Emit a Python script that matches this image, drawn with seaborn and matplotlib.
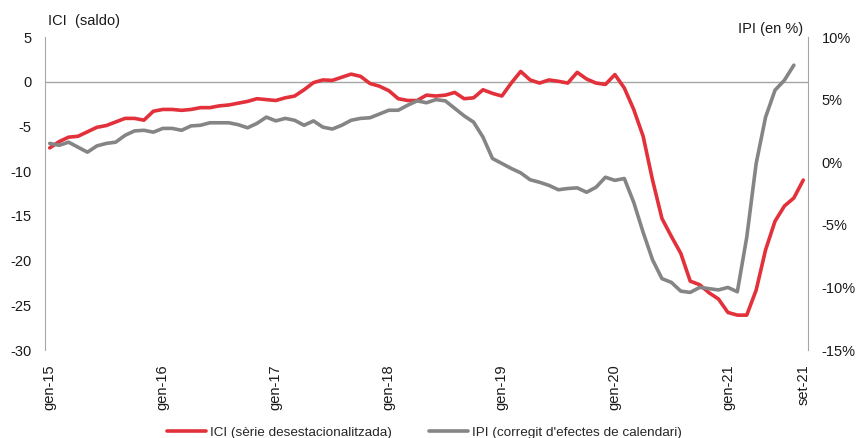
import numpy as np
import pandas as pd
import matplotlib
matplotlib.use("Agg")
import matplotlib.pyplot as plt
import seaborn as sns

# ICI (saldo), monthly gen-15 .. set-21
ici = [-7.4, -6.7, -6.2, -6.1, -5.6, -5.1, -4.9, -4.5, -4.1, -4.1, -4.3, -3.3,
       -3.1, -3.1, -3.2, -3.1, -2.9, -2.9, -2.7, -2.6, -2.4, -2.2, -1.9, -2.0,
       -2.1, -1.8, -1.6, -0.9, -0.1, 0.2, 0.15, 0.5, 0.85, 0.6, -0.2, -0.5,
       -1.0, -1.9, -2.1, -2.1, -1.5, -1.6, -1.5, -1.2, -1.9, -1.8, -0.9, -1.3,
       -1.6, -0.15, 1.15, 0.2, -0.15, 0.2, 0.05, -0.15, 1.05, 0.3, -0.15, -0.3,
       0.8, -0.7, -3.1, -6.1, -11.0, -15.3, -17.3, -19.2, -22.3, -22.7, -23.6, -24.3,
       -25.8, -26.1, -26.1, -23.3, -18.8, -15.6, -13.9, -13.0, -11.0]

# IPI (en %), last month not yet published
ipi = [1.5, 1.35, 1.6, 1.2, 0.8, 1.3, 1.5, 1.6, 2.15, 2.5, 2.55, 2.4,
       2.7, 2.7, 2.55, 2.9, 2.95, 3.15, 3.15, 3.15, 3.0, 2.75, 3.1, 3.6,
       3.3, 3.5, 3.35, 2.95, 3.3, 2.8, 2.65, 2.95, 3.35, 3.5, 3.55, 3.85,
       4.15, 4.15, 4.55, 4.9, 4.75, 5.0, 4.9, 4.3, 3.7, 3.2, 2.0, 0.3,
       -0.1, -0.5, -0.85, -1.4, -1.6, -1.85, -2.2, -2.1, -2.05, -2.4, -2.0, -1.2,
       -1.45, -1.3, -3.2, -5.6, -7.8, -9.3, -9.6, -10.3, -10.4, -10.0, -10.1, -10.2,
       -10.0, -10.35, -6.0, -0.1, 3.6, 5.75, 6.55, 7.75, np.nan]

tick_pos = [0, 12, 24, 36, 48, 60, 72, 80]
tick_labels = ["gen-15", "gen-16", "gen-17", "gen-18", "gen-19", "gen-20", "gen-21", "set-21"]

df = pd.DataFrame({"t": np.arange(len(ici)), "ici": ici, "ipi": ipi})

red = "#E2313A"
grey = "#858585"

sns.set_style("white")
plt.rcParams["font.family"] = ["Liberation Sans", "DejaVu Sans"]
plt.rcParams["axes.unicode_minus"] = False

fig = plt.figure(figsize=(8.61, 4.38), dpi=100)
ax = fig.add_axes([0.0523, 0.2009, 0.8861, 0.7146])
ax2 = ax.twinx()

sns.lineplot(data=df, x="t", y="ici", ax=ax, color=red, linewidth=2.6,
             label="ICI (sèrie desestacionalitzada)", legend=False)
sns.lineplot(data=df, x="t", y="ipi", ax=ax2, color=grey, linewidth=2.6,
             label="IPI (corregit d'efectes de calendari)", legend=False)
ax.axhline(0, color="#a6a6a6", linewidth=1.0, zorder=0)

ax.set_xlim(-0.5, 80.5)
ax.set_ylim(-30, 5)
ax2.set_ylim(-15, 10)
ax.set_yticks(range(-30, 6, 5))
ax2.set_yticks(range(-15, 11, 5))
ax2.set_yticklabels([f"{v}%" for v in range(-15, 11, 5)])
ax.set_xticks(tick_pos)
ax.set_xticklabels(tick_labels, rotation=90)

for a in (ax, ax2):
    a.set_xlabel("")
    a.set_ylabel("")
    for s in a.spines.values():
        s.set_visible(False)
    a.tick_params(length=0, labelsize=10.5, colors="#1a1a1a")
ax.spines["left"].set_visible(True)
ax.spines["left"].set_color("#a6a6a6")
ax2.spines["right"].set_visible(True)
ax2.spines["right"].set_color("#a6a6a6")
ax.tick_params(axis="y", pad=10)
ax2.tick_params(axis="y", pad=10)
ax.tick_params(axis="x", pad=10)

fig.text(0.056, 0.943, "ICI  (saldo)", fontsize=10.5, color="#1a1a1a", va="baseline")
fig.text(0.933, 0.925, "IPI (en %)", fontsize=10.5, color="#1a1a1a", va="baseline", ha="right")

h1, l1 = ax.get_legend_handles_labels()
h2, l2 = ax2.get_legend_handles_labels()
fig.legend(h1 + h2, l1 + l2, loc="center", bbox_to_anchor=(0.493, 0.012), ncol=2,
           frameon=False, fontsize=9.7, handlelength=2.9, handletextpad=0.3,
           columnspacing=2.75, borderaxespad=0, borderpad=0)

fig.savefig("out.png", dpi=100)
